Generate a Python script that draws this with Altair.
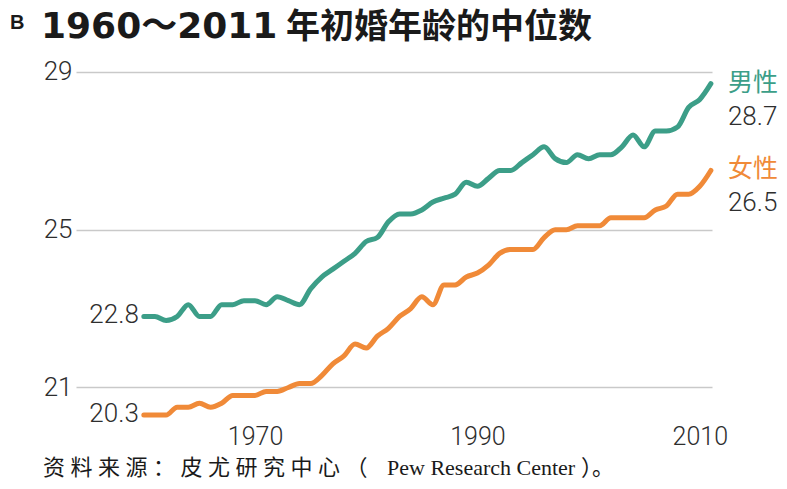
import altair as alt
import pandas as pd

# ---- data ----
years = list(range(1960, 2012))
men = [22.8, 22.8, 22.7, 22.8, 23.1, 22.8, 22.8, 23.1, 23.1, 23.2,
       23.2, 23.1, 23.3, 23.2, 23.1, 23.5, 23.8, 24.0, 24.2, 24.4,
       24.7, 24.8, 25.2, 25.4, 25.4, 25.5, 25.7, 25.8, 25.9, 26.2,
       26.1, 26.3, 26.5, 26.5, 26.7, 26.9, 27.1, 26.8, 26.7, 26.9,
       26.8, 26.9, 26.9, 27.1, 27.4, 27.1, 27.5, 27.5, 27.6, 28.1,
       28.3, 28.7]
women = [20.3, 20.3, 20.3, 20.5, 20.5, 20.6, 20.5, 20.6, 20.8, 20.8,
         20.8, 20.9, 20.9, 21.0, 21.1, 21.1, 21.3, 21.6, 21.8, 22.1,
         22.0, 22.3, 22.5, 22.8, 23.0, 23.3, 23.1, 23.6, 23.6, 23.8,
         23.9, 24.1, 24.4, 24.5, 24.5, 24.5, 24.8, 25.0, 25.0, 25.1,
         25.1, 25.1, 25.3, 25.3, 25.3, 25.3, 25.5, 25.6, 25.9, 25.9,
         26.1, 26.5]
series_names = ["男性", "女性"]
start_labels = ["22.8", "20.3"]
end_labels = ["28.7", "26.5"]
y_ticks = [21, 25, 29]
x_ticks = [1970, 1990, 2010]
panel_letter = "B"
title_nums = "1960～2011"
title_cjk = "年初婚年龄的中位数"
S = "\u2005"
source_cjk = S.join("资料来源：皮尤研究中心（")
source_latin = "Pew Research Center"
source_end = "）。"

GREEN = "#3c9e88"
ORANGE = "#f08a38"
TXT = "#2e2e2e"
NUM_FONT = "Roboto"

df = pd.DataFrame({
    "year": years + years,
    "age": men + women,
    "sex": [series_names[0]] * len(years) + [series_names[1]] * len(years),
})
start_df = pd.DataFrame({"year": [years[0]] * 2, "age": [men[0], women[0]],
                         "sex": series_names, "lab": start_labels})
end_df = pd.DataFrame({"year": [years[-1]] * 2, "age": [men[-1], women[-1]],
                       "sex": series_names, "lab": end_labels})

xs = alt.Scale(domain=[1953.9, 2011.1], nice=False, zero=False)
ys = alt.Scale(domain=[20.1, 29.3], nice=False, zero=False)
cs = alt.Scale(domain=series_names, range=[GREEN, ORANGE])

X = alt.X("year:Q", scale=xs, axis=alt.Axis(
    values=x_ticks, format="d", grid=False, domain=False, ticks=False,
    labelFontSize=25, labelPadding=1, labelColor=TXT, labelFont=NUM_FONT,
    labelFontWeight=300, title=None))
Y = alt.Y("age:Q", scale=ys, axis=alt.Axis(
    values=y_ticks, grid=True, gridColor="#c9c9c9", gridWidth=1.3,
    domain=False, ticks=False, labelFontSize=26, labelPadding=4,
    labelColor=TXT, labelFont=NUM_FONT, labelFontWeight=300, title=None))
C = alt.Color("sex:N", scale=cs, legend=None)

lines = alt.Chart(df).mark_line(
    strokeWidth=5, strokeCap="round", strokeJoin="round",
    interpolate="monotone").encode(x=X, y=Y, color=C)

start_txt = alt.Chart(start_df).mark_text(
    align="right", baseline="middle", dx=-5, dy=-1, fontSize=26,
    font=NUM_FONT, fontWeight=300, color=TXT).encode(
    x=alt.X("year:Q", scale=xs), y=alt.Y("age:Q", scale=ys), text="lab:N")

end_name = alt.Chart(end_df).mark_text(
    align="left", baseline="middle", dx=17, dy=-1, fontSize=25,
    font="Noto Sans CJK SC").encode(
    x=alt.X("year:Q", scale=xs), y=alt.Y("age:Q", scale=ys), text="sex:N",
    color=C)

end_val = alt.Chart(end_df).mark_text(
    align="left", baseline="middle", dx=17, dy=33, fontSize=26,
    font=NUM_FONT, fontWeight=300, color=TXT).encode(
    x=alt.X("year:Q", scale=xs), y=alt.Y("age:Q", scale=ys), text="lab:N")


def label(text, x, y, size, font, weight="normal", color="#1a1a1a",
          baseline="alphabetic"):
    return alt.Chart(pd.DataFrame({"t": [text]})).mark_text(
        align="left", baseline=baseline, fontSize=size, fontWeight=weight,
        font=font, color=color).encode(
        x=alt.value(x), y=alt.value(y), text="t:N")


letter = label(panel_letter, -66, -31, 20, "Liberation Sans", "bold")
t1 = label(title_nums, -35, -50, 36, "DejaVu Sans, Noto Sans CJK SC", "bold",
           baseline="top")
t2 = label(title_cjk, 210, -49, 34, "Noto Sans CJK SC", "bold",
           baseline="top")
s1 = label(source_cjk, -33, 408, 22, "Noto Sans CJK SC", baseline="middle")
s2 = label(source_latin, 311, 408, 22, "Liberation Serif", baseline="middle")
s3 = label(source_end, 505, 408, 22, "Noto Sans CJK SC", baseline="middle")

chart = alt.layer(lines, start_txt, end_name, end_val,
                  letter, t1, t2, s1, s2, s3).properties(
    width=636, height=363,
    background="white",
    autosize=alt.AutoSizeParams(type="none"),
    padding={"left": 68, "top": 52, "right": 67, "bottom": 58},
).configure_view(strokeWidth=0, stroke="transparent")

chart.save("out.html", embed_options={"renderer": "svg", "actions": False})
